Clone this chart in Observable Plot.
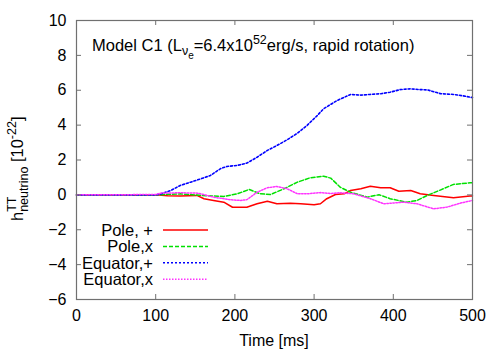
<!DOCTYPE html>
<html>
<head>
<meta charset="utf-8">
<script src="https://cdn.jsdelivr.net/npm/d3@7"></script>
<script src="https://cdn.jsdelivr.net/npm/@observablehq/plot@0.6"></script>
<style>
  html, body { margin: 0; padding: 0; background: #fff; }
  #chart { width: 500px; height: 350px; }
</style>
</head>
<body>
<div id="chart"></div>
<script>
// ---- data ----
const xTicks = [0, 100, 200, 300, 400, 500];
const yTicks = [-6, -4, -2, 0, 2, 4, 6, 8, 10];
const seriesNames = ["Pole, +", "Pole,x", "Equator,+", "Equator,x"];

const polePlusT = [0, 100, 115, 131, 152, 161, 173, 186, 197, 215, 228, 241, 253, 270, 283, 300, 308, 316, 327, 338, 346, 359, 371, 384, 396, 407, 422, 434, 451, 476, 497, 500];
const polePlusV = [0, 0, -0.05, -0.07, -0.03, -0.22, -0.32, -0.42, -0.71, -0.71, -0.51, -0.36, -0.51, -0.48, -0.51, -0.57, -0.51, -0.22, 0.02, 0.06, 0.25, 0.35, 0.5, 0.41, 0.41, 0.21, 0.25, 0.06, -0.03, -0.17, -0.07, -0.06];

const poleXT = [0, 100, 115, 131, 157, 186, 203, 218, 232, 245, 262, 279, 295, 312, 321, 333, 346, 367, 382, 396, 417, 430, 443, 460, 476, 497, 500];
const poleXV = [0, 0, 0.03, 0.06, -0.03, -0.09, 0.06, 0.31, 0.06, 0.02, 0.35, 0.73, 0.98, 1.07, 0.96, 0.44, 0.15, -0.13, 0.01, -0.22, -0.42, -0.32, -0.03, 0.29, 0.6, 0.69, 0.7];

const eqPlusT = [0, 100, 106, 119, 131, 144, 157, 169, 182, 190, 203, 215, 228, 241, 253, 266, 279, 291, 304, 312, 329, 346, 359, 371, 384, 396, 409, 422, 433, 443, 460, 476, 488, 500];
const eqPlusV = [0, 0, 0.05, 0.25, 0.54, 0.73, 0.92, 1.11, 1.51, 1.63, 1.69, 1.82, 2.16, 2.55, 2.83, 3.16, 3.54, 3.98, 4.55, 4.94, 5.41, 5.76, 5.72, 5.76, 5.8, 5.89, 6.04, 6.08, 6.04, 6.02, 5.8, 5.76, 5.68, 5.58];

const eqXT = [0, 100, 106, 131, 152, 157, 173, 194, 207, 215, 228, 241, 253, 266, 279, 291, 308, 321, 333, 350, 371, 388, 413, 430, 451, 468, 485, 500];
const eqXV = [0, 0.02, 0.1, 0.12, 0.1, 0.06, -0.13, -0.28, -0.32, -0.28, 0.15, 0.41, 0.48, 0.35, 0.06, 0.06, 0.13, 0.08, 0.12, 0.06, -0.22, -0.51, -0.42, -0.51, -0.8, -0.7, -0.47, -0.32];

// ---- build tables ----
const zip = (T, V) => T.map((t, i) => ({t, v: V[i]}));
const series = [
  {name: seriesNames[0], data: zip(polePlusT, polePlusV), color: "#ff0000", dash: null, width: 1.5},
  {name: seriesNames[1], data: zip(poleXT, poleXV), color: "#00e000", dash: "4,2", width: 1.5},
  {name: seriesNames[2], data: zip(eqPlusT, eqPlusV), color: "#0000ff", dash: "2,2", width: 1.6},
  {name: seriesNames[3], data: zip(eqXT, eqXV), color: "#ff33ff", dash: "1.5,1.5", width: 1.5}
];

const W = 500, H = 350, mL = 76, mR = 28, mT = 20, mB = 51;
const frameH = H - mT - mB, frameW = W - mL - mR;
const frameColor = "#707070";
const tickLen = 5;
const FF = "'Liberation Sans', Arial, sans-serif";
const FS = 16.5;   // main text size
const SS = 12.5;   // script size

const plot = Plot.plot({
  width: W, height: H,
  marginLeft: mL, marginRight: mR, marginTop: mT, marginBottom: mB,
  style: {fontFamily: FF, fontSize: "16px", background: "#fff", color: "#000"},
  x: {domain: [0, 500]},
  y: {domain: [-6, 10]},
  marks: [
    ...series.map(s => Plot.line(s.data, {x: "t", y: "v", stroke: s.color, strokeWidth: s.width, strokeDasharray: s.dash, curve: "linear"})),
    Plot.frame({stroke: frameColor, strokeWidth: 1.2}),
    Plot.tickX(xTicks, {x: d => d, stroke: frameColor, insetTop: frameH - tickLen}),
    Plot.tickX(xTicks, {x: d => d, stroke: frameColor, insetBottom: frameH - tickLen}),
    Plot.tickY(yTicks, {y: d => d, stroke: frameColor, insetRight: frameW - tickLen}),
    Plot.tickY(yTicks, {y: d => d, stroke: frameColor, insetLeft: frameW - tickLen}),
    Plot.axisX({ticks: xTicks, tickSize: 0, tickPadding: 10, label: null, fill: "#000"}),
    Plot.axisY({ticks: yTicks, tickSize: 0, tickPadding: 10, label: null, fill: "#000"})
  ]
});

document.getElementById("chart").appendChild(plot);

// ---- annotation text with super/subscripts ----
const svg = d3.select(plot);

// title
const title = svg.append("text")
  .attr("x", 92).attr("y", 51).attr("text-anchor", "start")
  .attr("font-family", FF).attr("font-size", FS).attr("fill", "#000");
title.append("tspan").text("Model C1 (L");
title.append("tspan").attr("font-size", SS).attr("dy", 4).text("ν");
title.append("tspan").attr("font-size", 10).attr("dy", 4).text("e");
title.append("tspan").attr("font-size", FS).attr("dy", -8).text("=6.4x10");
title.append("tspan").attr("font-size", SS).attr("dy", -7).text("52");
title.append("tspan").attr("font-size", FS).attr("dy", 7).text("erg/s, rapid rotation)");

// y label
const yl = svg.append("text")
  .attr("transform", "translate(23,221) rotate(-90)").attr("text-anchor", "start")
  .attr("font-family", FF).attr("font-size", FS).attr("fill", "#000");
yl.append("tspan").text("h");
yl.append("tspan").attr("font-size", SS).attr("dy", -7).text("TT");
yl.append("tspan").attr("font-size", SS).attr("dx", -15.3).attr("dy", 12).text("neutrino");
yl.append("tspan").attr("font-size", FS).attr("dy", -5).text(" [10");
yl.append("tspan").attr("font-size", SS).attr("dy", -7).text("-22");
yl.append("tspan").attr("font-size", FS).attr("dy", 7).text("]");

// x label
svg.append("text")
  .attr("x", mL + frameW / 2).attr("y", 346)
  .attr("text-anchor", "middle")
  .attr("font-family", FF).attr("font-size", 16).attr("fill", "#000")
  .text("Time [ms]");

// legend
const legY0 = 230, legDY = 16.4;
series.forEach((s, i) => {
  const y = legY0 + i * legDY;
  svg.append("text")
    .attr("x", 153).attr("y", y).attr("dy", "0.35em")
    .attr("text-anchor", "end")
    .attr("font-family", FF).attr("font-size", FS).attr("fill", "#000")
    .text(s.name);
  svg.append("line")
    .attr("x1", 163).attr("x2", 208).attr("y1", y).attr("y2", y)
    .attr("stroke", s.color).attr("stroke-width", s.width)
    .attr("stroke-dasharray", s.dash);
});
</script>
</body>
</html>
